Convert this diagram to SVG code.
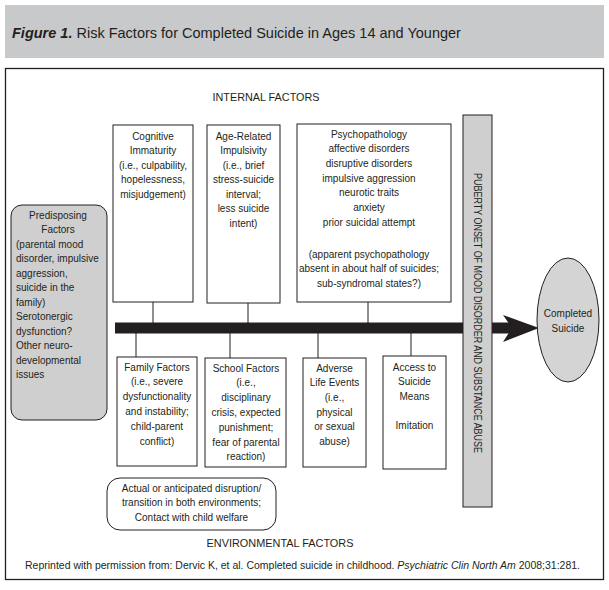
<svg xmlns="http://www.w3.org/2000/svg" width="609" height="590" viewBox="0 0 609 590">
<style>
  text { font-family: "Liberation Sans", Arial, sans-serif; fill: #231f20; }
  .t { font-size: 10px; text-anchor: middle; }
  .tl { font-size: 10px; }
  .box { fill: #ffffff; stroke: #231f20; stroke-width: 1; }
  .gray { fill: #cfcfcf; stroke: #231f20; stroke-width: 1; }
  .link { stroke: #231f20; stroke-width: 1; fill: none; }
  .hdr { font-size: 10.5px; text-anchor: middle; }
</style>
<rect x="0" y="0" width="609" height="590" fill="#ffffff"/>
<!-- header -->
<rect x="5" y="5" width="599" height="53" fill="#c8c9cb"/>
<text x="12" y="38" font-size="14.5"><tspan font-weight="bold" font-style="italic">Figure 1.</tspan> Risk Factors for Completed Suicide in Ages 14 and Younger</text>
<!-- frame -->
<rect x="5.5" y="68.5" width="598" height="511" fill="none" stroke="#231f20" stroke-width="1.3"/>
<text class="hdr" x="266" y="101" textLength="107" lengthAdjust="spacingAndGlyphs">INTERNAL FACTORS</text>
<text class="hdr" x="280" y="547" textLength="147" lengthAdjust="spacingAndGlyphs">ENVIRONMENTAL FACTORS</text>
<text class="tl" x="25" y="569" font-size="9.6" textLength="555" lengthAdjust="spacingAndGlyphs">Reprinted with permission from: Dervic K, et al. Completed suicide in childhood. <tspan font-style="italic">Psychiatric Clin North Am</tspan> 2008;31:281.</text>

<!-- connectors -->
<g id="connectors">
  <line class="link" x1="153" y1="302" x2="153" y2="323"/>
  <line class="link" x1="248" y1="303" x2="248" y2="323"/>
  <line class="link" x1="368" y1="302" x2="368" y2="323"/>
  <line class="link" x1="136" y1="333" x2="136" y2="357"/>
  <line class="link" x1="230" y1="333" x2="230" y2="358"/>
  <line class="link" x1="318" y1="333" x2="318" y2="358"/>
  <line class="link" x1="411" y1="333" x2="411" y2="356"/>
  <rect x="115" y="322.5" width="398" height="11" fill="#231f20"/>
  <polygon points="503,315 539,328 503,342 512,328" fill="#231f20"/>
</g>

<g id="predisposing">
  <rect class="gray" x="11" y="205" width="96" height="215" rx="11" ry="11"/>
  <text class="t" x="58" y="218.5">Predisposing</text>
  <text class="t" x="58" y="233">Factors</text>
  <text class="tl" x="16" y="247.5">(parental mood<tspan x="16" dy="14.5">disorder, impulsive</tspan><tspan x="16" dy="14.5">aggression,</tspan><tspan x="16" dy="14.5">suicide in the</tspan><tspan x="16" dy="14.5">family)</tspan><tspan x="16" dy="14.5">Serotonergic</tspan><tspan x="16" dy="14.5">dysfunction?</tspan><tspan x="16" dy="14.5">Other neuro-</tspan><tspan x="16" dy="14.5">developmental</tspan><tspan x="16" dy="14.5">issues</tspan></text>
</g>

<g id="cognitive">
  <rect class="box" x="113" y="125" width="80" height="177"/>
  <text class="t" x="153" y="139.5">Cognitive<tspan x="153" dy="14.5">Immaturity</tspan><tspan x="153" dy="14.5">(i.e., culpability,</tspan><tspan x="153" dy="14.5">hopelessness,</tspan><tspan x="153" dy="14.5">misjudgement)</tspan></text>
</g>

<g id="age-related">
  <rect class="box" x="207" y="125" width="73" height="178"/>
  <text class="t" x="243.5" y="139.5">Age-Related<tspan x="243.5" dy="14.5">Impulsivity</tspan><tspan x="243.5" dy="14.5">(i.e., brief</tspan><tspan x="243.5" dy="14.5">stress-suicide</tspan><tspan x="243.5" dy="14.5">interval;</tspan><tspan x="243.5" dy="14.5">less suicide</tspan><tspan x="243.5" dy="14.5">intent)</tspan></text>
</g>

<g id="psychopathology">
  <rect class="box" x="297" y="124" width="154" height="178"/>
  <text class="t" x="369" y="137.5">Psychopathology<tspan x="369" dy="14.7">affective disorders</tspan><tspan x="369" dy="14.7">disruptive disorders</tspan><tspan x="369" dy="14.7">impulsive aggression</tspan><tspan x="369" dy="14.7">neurotic traits</tspan><tspan x="369" dy="14.7">anxiety</tspan><tspan x="369" dy="14.7">prior suicidal attempt</tspan><tspan x="369" dy="32">(apparent psychopathology</tspan><tspan x="369" dy="14.7">absent in about half of suicides;</tspan><tspan x="369" dy="14.7">sub-syndromal states?)</tspan></text>
</g>

<g id="family">
  <rect class="box" x="117" y="357" width="80" height="109"/>
  <text class="t" x="157" y="370.5">Family Factors<tspan x="157" dy="14.8">(i.e., severe</tspan><tspan x="157" dy="14.8">dysfunctionality</tspan><tspan x="157" dy="14.8">and instability;</tspan><tspan x="157" dy="14.8">child-parent</tspan><tspan x="157" dy="14.8">conflict)</tspan></text>
</g>

<g id="school">
  <rect class="box" x="205" y="358" width="81" height="109"/>
  <text class="t" x="246" y="371.5">School Factors<tspan x="246" dy="14.8">(i.e.,</tspan><tspan x="246" dy="14.8">disciplinary</tspan><tspan x="246" dy="14.8">crisis, expected</tspan><tspan x="246" dy="14.8">punishment;</tspan><tspan x="246" dy="14.8">fear of parental</tspan><tspan x="246" dy="14.8">reaction)</tspan></text>
</g>

<g id="adverse">
  <rect class="box" x="303" y="358" width="63" height="109"/>
  <text class="t" x="334.5" y="371.5">Adverse<tspan x="334.5" dy="14.7">Life Events</tspan><tspan x="334.5" dy="14.7">(i.e.,</tspan><tspan x="334.5" dy="14.7">physical</tspan><tspan x="334.5" dy="14.7">or sexual</tspan><tspan x="334.5" dy="14.7">abuse)</tspan></text>
</g>

<g id="access">
  <rect class="box" x="383" y="356" width="63" height="113"/>
  <text class="t" x="414.5" y="370.5">Access to<tspan x="414.5" dy="14.5">Suicide</tspan><tspan x="414.5" dy="14.5">Means</tspan><tspan x="414.5" dy="29.5">Imitation</tspan></text>
</g>

<g id="disruption">
  <rect class="box" x="107" y="478" width="169" height="52" rx="13" ry="13"/>
  <text class="t" x="191.5" y="491.5">Actual or anticipated disruption/<tspan x="191.5" dy="14.5">transition in both environments;</tspan><tspan x="191.5" dy="14.5">Contact with child welfare</tspan></text>
</g>

<g id="puberty">
  <rect class="gray" x="463" y="115" width="29" height="392"/>
  <text class="t" transform="translate(473.5,313) rotate(90)" x="0" y="0" textLength="280" lengthAdjust="spacingAndGlyphs">PUBERTY ONSET OF MOOD DISORDER AND SUBSTANCE ABUSE</text>
</g>

<g id="completed-suicide">
  <ellipse cx="568" cy="320" rx="31" ry="62" fill="#d4d4d4" stroke="#231f20" stroke-width="1"/>
  <text class="t" x="568" y="316.5">Completed<tspan x="568" dy="15">Suicide</tspan></text>
</g>
</svg>
